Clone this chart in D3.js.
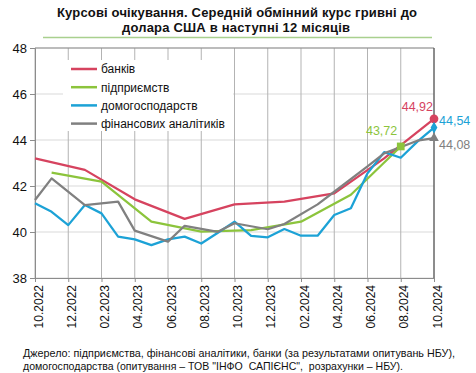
<!DOCTYPE html>
<html>
<head>
<meta charset="utf-8">
<script src="https://cdn.jsdelivr.net/npm/d3@7"></script>
<style>
  body { margin: 0; background: #fff; }
  text { font-family: Arial, "Liberation Sans", sans-serif; }
</style>
</head>
<body>
<script>
const months = ["10.2022","11.2022","12.2022","01.2023","02.2023","03.2023","04.2023","05.2023","06.2023","07.2023","08.2023","09.2023",
  "10.2023","11.2023","12.2023","01.2024","02.2024","03.2024","04.2024","05.2024","06.2024","07.2024","08.2024","09.2024","10.2024"];
const tickMonths = months.filter((m, i) => i % 2 === 0);
const yTicks = [38, 40, 42, 44, 46, 48];

const bankMonths = ["10.2022","01.2023","04.2023","07.2023","10.2023","01.2024","04.2024","07.2024","10.2024"];
const bankValues = [43.2, 42.7, 41.42, 40.57, 41.2, 41.32, 41.68, 43.2, 44.92];

const firmMonths = ["11.2022","02.2023","05.2023","08.2023","11.2023","02.2024","05.2024","08.2024"];
const firmValues = [42.58, 42.19, 40.45, 40.02, 40.08, 40.45, 41.62, 43.72];

const householdValues = [41.25, 40.88, 40.3, 41.17, 40.81, 39.8, 39.68, 39.43, 39.68, 39.8, 39.5, 39.97,
  40.45, 39.83, 39.77, 40.13, 39.84, 39.84, 40.74, 41.03, 42.55, 43.47, 43.23, 43.93, 44.54];

const analystMonths = ["10.2022","11.2022","01.2023","03.2023","04.2023","06.2023","07.2023","09.2023","10.2023",
  "12.2023","01.2024","03.2024","04.2024","06.2024","07.2024","09.2024","10.2024"];
const analystValues = [41.39, 42.33, 41.17, 41.32, 40.06, 39.58, 40.27, 40.01, 40.38, 40.12, 40.35, 41.2, 41.75, 42.85, 43.42, 43.97, 44.08];

const seriesNames = ["банків", "підприємств", "домогосподарств", "фінансових аналітиків"];
const seriesColors = ["#d6435f", "#8cc43c", "#1ca2d6", "#808080"];

const width = 476, height = 373;
const plotLeft = 35, plotRight = 434, plotTop = 48, plotBottom = 278;

const svg = d3.select("body").append("svg")
  .attr("width", width)
  .attr("height", height);

const x = d3.scalePoint().domain(months).range([plotLeft, plotRight]);
const y = d3.scaleLinear().domain([38, 48]).range([plotBottom, plotTop]);

const series = [
  { pts: bankMonths.map((m, i) => ({ m, v: bankValues[i] })) },
  { pts: firmMonths.map((m, i) => ({ m, v: firmValues[i] })) },
  { pts: months.map((m, i) => ({ m, v: householdValues[i] })) },
  { pts: analystMonths.map((m, i) => ({ m, v: analystValues[i] })) }
];
series.forEach((s, i) => { s.name = seriesNames[i]; s.color = seriesColors[i]; });

// title
const title = svg.append("text")
  .attr("font-size", 13)
  .attr("font-weight", "bold")
  .attr("fill", "#111");
title.append("tspan").attr("x", 57).attr("y", 17)
  .attr("textLength", 360).attr("lengthAdjust", "spacing")
  .text("Курсові очікування. Середній обмінний курс гривні до");
title.append("tspan").attr("x", 122).attr("y", 32)
  .attr("textLength", 228).attr("lengthAdjust", "spacing")
  .text("долара США в наступні 12 місяців");

svg.append("line")
  .attr("x1", 43).attr("x2", 432).attr("y1", 37.5).attr("y2", 37.5)
  .attr("stroke", "#a9d08e").attr("stroke-width", 1.5);

// grid
svg.append("g")
  .selectAll("line")
  .data(yTicks)
  .join("line")
  .attr("x1", plotLeft).attr("x2", plotRight)
  .attr("y1", d => y(d)).attr("y2", d => y(d))
  .attr("stroke", "#d9d9d9");

svg.append("g")
  .selectAll("line")
  .data(tickMonths)
  .join("line")
  .attr("x1", d => x(d)).attr("x2", d => x(d))
  .attr("y1", plotTop).attr("y2", plotBottom)
  .attr("stroke", "#b3b3b3");

// axes
const yAxis = svg.append("g")
  .attr("transform", `translate(${plotLeft},0)`)
  .call(d3.axisLeft(y).tickValues(yTicks).tickSize(5).tickPadding(3).tickFormat(d3.format("d")));
yAxis.select(".domain").attr("stroke", "#8c8c8c");
yAxis.selectAll(".tick line").attr("stroke", "#8c8c8c");
yAxis.selectAll("text").attr("font-size", 13).attr("fill", "#111")
  .style("font-family", "Arial, 'Liberation Sans', sans-serif");

const xAxis = svg.append("g")
  .attr("transform", `translate(0,${plotBottom})`)
  .call(d3.axisBottom(x).tickValues(tickMonths).tickSize(4).tickSizeOuter(0));
xAxis.select(".domain").attr("stroke", "#8c8c8c");
xAxis.selectAll(".tick line").attr("stroke", "#8c8c8c");
xAxis.selectAll("text")
  .attr("font-size", 12)
  .attr("fill", "#111")
  .style("font-family", "Arial, 'Liberation Sans', sans-serif")
  .attr("transform", "rotate(-90)")
  .attr("text-anchor", "end")
  .attr("x", -7)
  .attr("y", 7)
  .attr("dy", 0);

svg.append("line")
  .attr("x1", plotLeft).attr("x2", plotRight).attr("y1", plotTop).attr("y2", plotTop)
  .attr("stroke", "#8c8c8c");
svg.append("line")
  .attr("x1", plotRight).attr("x2", plotRight).attr("y1", plotTop).attr("y2", plotBottom)
  .attr("stroke", "#404040");

// legend (white box covers grid)
svg.append("rect")
  .attr("x", 63).attr("y", 60).attr("width", 170).attr("height", 71)
  .attr("fill", "#fff");
const legend = svg.append("g")
  .selectAll("g")
  .data(series)
  .join("g")
  .attr("transform", (d, i) => `translate(71,${69 + i * 18.2})`);
legend.append("line")
  .attr("x1", 0).attr("x2", 26)
  .attr("stroke", d => d.color)
  .attr("stroke-width", 2.5);
legend.append("text")
  .attr("x", 30).attr("y", 4.3)
  .attr("font-size", 12)
  .attr("fill", "#111")
  .text(d => d.name);

// lines
const line = d3.line().x(d => x(d.m)).y(d => y(d.v));
svg.append("g")
  .selectAll("path")
  .data(series)
  .join("path")
  .attr("d", d => line(d.pts))
  .attr("fill", "none")
  .attr("stroke", d => d.color)
  .attr("stroke-width", 2.25)
  .attr("stroke-linejoin", "round");

// end markers and labels
const fmt = v => d3.format(".2f")(v).replace(".", ",");
const lastPt = s => s.pts[s.pts.length - 1];
const marks = [
  { s: series[0], sym: d3.symbolCircle, size: 60, dx: -1, dy: -7.7, anchor: "end" },
  { s: series[1], sym: d3.symbolSquare, size: 60, dx: -3.5, dy: -11.4, anchor: "end" },
  { s: series[2], sym: d3.symbolDiamond, size: 40, dx: 5, dy: -2.7, anchor: "start" },
  { s: series[3], sym: d3.symbolTriangle, size: 40, dx: 5, dy: 10.4, anchor: "start" }
];
marks.forEach(mk => {
  const p = lastPt(mk.s);
  svg.append("path")
    .attr("d", d3.symbol(mk.sym, mk.size)())
    .attr("transform", `translate(${x(p.m)},${y(p.v)})`)
    .attr("fill", mk.s.color);
  svg.append("text")
    .attr("x", x(p.m) + mk.dx)
    .attr("y", y(p.v) + mk.dy)
    .attr("text-anchor", mk.anchor)
    .attr("font-size", 12.5)
    .attr("fill", mk.s.color)
    .text(fmt(p.v));
});

// source note
const note = svg.append("text").attr("font-size", 11).attr("fill", "#111");
note.append("tspan").attr("x", 23).attr("y", 356.5)
  .attr("textLength", 432).attr("lengthAdjust", "spacingAndGlyphs")
  .text("Джерело: підприємства, фінансові аналітики, банки (за результатами опитувань НБУ),");
note.append("tspan").attr("x", 23).attr("y", 369.5)
  .attr("textLength", 380).attr("lengthAdjust", "spacingAndGlyphs")
  .style("white-space", "pre")
  .text("домогосподарства (опитування – ТОВ \"ІНФО  САПІЄНС\",  розрахунки – НБУ).");
</script>
</body>
</html>
